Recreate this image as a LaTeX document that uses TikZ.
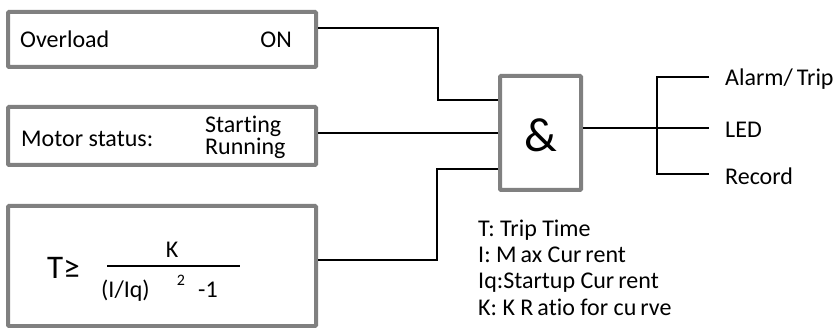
\documentclass[tikz,border=0pt]{standalone}
\usepackage{fontspec}
\setmainfont{Carlito}[Ligatures=NoCommon]
\usetikzlibrary{positioning,calc}

\tikzset{
    panel/.style={draw=gray, line width=4pt, rounded corners=1pt, inner sep=0pt, minimum width=308pt},
    wire/.style={line width=2.4pt},
    txt/.style={inner sep=0pt, font=\fontsize{24}{26}\selectfont}
}

\begin{document}
\begin{tikzpicture}[x=1pt, y=-1pt]
    \useasboundingbox (0,0) rectangle (834,328);

    % Input boxes
    \node[panel, minimum height=55pt] (ovl) at (162,39.5) {};
    \node[txt, anchor=base west] (ovltxt) at (20,48) {Overload};
    \node[txt, anchor=base east] (ontxt) at (292,48) {ON};

    \node[panel, minimum height=58pt] (mot) at (162,136) {};
    \node[txt, anchor=base west] (mottxt) at (21,147) {Motor status:};
    \node[txt, anchor=base west] (starttxt) at (205,133) {Starting};
    \node[txt, anchor=base west] (runtxt) at (205,155) {Running};

    \node[panel, minimum height=120pt] (frm) at (162,266) {};
    \node[txt, anchor=base west, font=\fontsize{33}{35}\selectfont] (ttxt) at (47,278) {T≥};
    \node[txt, anchor=base] (ktxt) at (172,258) {K};
    \draw[line width=2.5pt] (107,266) -- (240,266);
    \node[txt, anchor=base west] (iiq) at (101,298) {(I/Iq)};
    \node[txt, anchor=base, font=\fontsize{16}{18}\selectfont] (sq) at (181,286) {2};
    \node[txt, anchor=base west] (mone) at (198,298) {-1};

    % AND gate
    \node[panel, minimum width=81pt, minimum height=114pt] (gate) at (540.5,133) {};
    \node[txt, font=\fontsize{48}{50}\selectfont] (amp) at (540.5,135) {\&};

    % Inputs
    \coordinate (j1) at (438,100);
    \coordinate (j3) at (437,169);
    \draw[wire] ($(ovl.north east)+(0,18)$) -| (j1) -- (j1 -| gate.west);
    \draw[wire] ($(mot.east)+(0,-3)$) -- ($(mot.east -| gate.west)+(0,-3)$);
    \draw[wire] ($(frm.east)+(0,-6)$) -| (j3) -- (j3 -| gate.west);

    % Outputs
    \node[txt, anchor=west] (alarm) at (725,79) {Alarm/\,Trip};
    \node[txt, anchor=west] (led) at (725,130) {LED};
    \node[txt, anchor=west] (rec) at (725,176) {Record};
    \coordinate (sp) at (657,128);
    \draw[wire] (gate.east |- sp) -- (709,128);
    \draw[wire] (709,77) -- (sp |- 0,77) -- (sp |- 0,174) -- (709,174);

    % Legend
    \node[txt, anchor=base west] (l1) at (478,237) {T: Trip Time};
    \node[txt, anchor=base west] (l2) at (478,262) {I: M\,ax Cur\,rent};
    \node[txt, anchor=base west] (l3) at (478,288) {Iq:Startup Cur\,rent};
    \node[txt, anchor=base west] (l4) at (478,315) {K: K R\,atio for cu\,rve};
\end{tikzpicture}
\end{document}
